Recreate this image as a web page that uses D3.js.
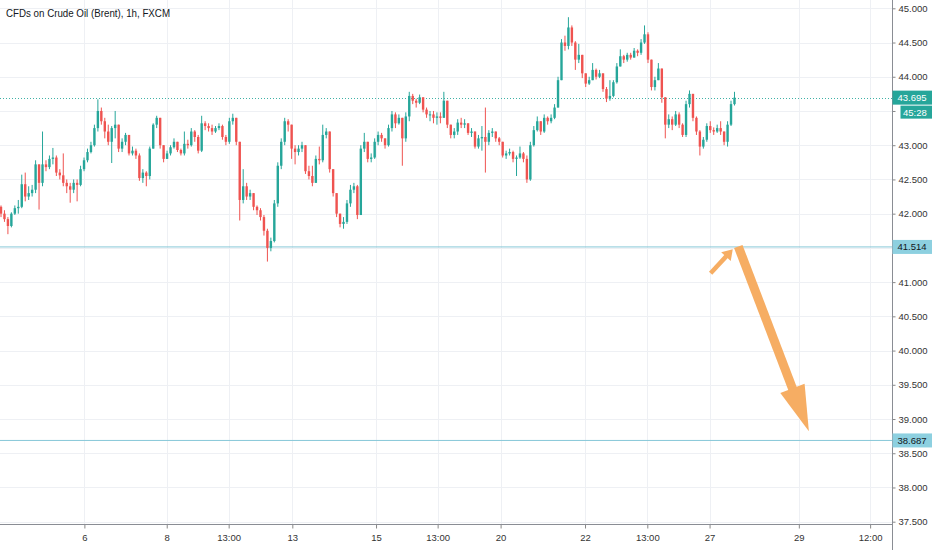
<!DOCTYPE html>
<html>
<head>
<meta charset="utf-8">
<script src="https://cdn.jsdelivr.net/npm/d3@7"></script>
<style>
  html, body { margin: 0; padding: 0; background: #fff; }
  svg { display: block; font-family: "Liberation Sans", Arial, sans-serif; }
  .tick text { fill: #333; font-size: 9.5px; }
  .tick line { stroke: #888; }
</style>
</head>
<body>
<script>
// CFDs on Crude Oil (Brent), 2h bars
const title = "CFDs on Crude Oil (Brent), 1h, FXCM";

const firstOpen = 42.10;
const closes = [
  42.00, 41.92, 41.82, 42.00, 42.08, 42.10, 42.43, 42.25, 42.30, 42.35,
  42.72, 42.45, 42.72, 42.68, 42.80, 42.82, 42.60, 42.56, 42.45, 42.40,
  42.35, 42.45, 42.42, 42.65, 42.78, 42.90, 43.00, 43.25, 43.50, 43.35,
  43.20, 43.05, 43.25, 43.30, 42.95, 43.05, 43.15, 42.88, 42.92, 42.85,
  42.52, 42.60, 42.55, 42.95, 43.30, 43.40, 43.00, 42.80, 42.88, 42.97,
  43.05, 42.93, 42.88, 43.02, 43.00, 43.20, 43.12, 42.92, 43.32, 43.28,
  43.25, 43.20, 43.25, 43.28, 43.12, 43.05, 43.35, 43.40, 43.05, 42.20,
  42.40, 42.25, 42.30, 42.10, 42.05, 41.95, 41.75, 41.50, 41.60, 42.15,
  42.70, 43.05, 43.35, 43.30, 42.95, 42.90, 42.95, 43.00, 42.62, 42.55,
  42.45, 42.80, 42.78, 43.15, 43.20, 42.65, 42.30, 42.00, 41.85, 41.88,
  42.15, 42.35, 42.40, 41.98, 42.95, 43.05, 42.80, 42.82, 43.05, 43.15,
  43.10, 43.00, 43.25, 43.45, 43.32, 43.40, 43.10, 43.42, 43.72, 43.65,
  43.62, 43.70, 43.52, 43.45, 43.45, 43.40, 43.42, 43.40, 43.65, 43.30,
  43.15, 43.20, 43.33, 43.30, 43.32, 43.18, 43.20, 42.98, 43.10, 43.12,
  43.05, 43.18, 43.20, 43.10, 43.05, 42.85, 42.88, 42.90, 42.80, 42.82,
  42.88, 42.80, 42.50, 43.00, 43.22, 43.35, 43.20, 43.40, 43.35, 43.40,
  43.55, 43.95, 44.50, 44.45, 44.72, 44.50, 44.25, 44.32, 44.05, 43.90,
  43.95, 44.10, 44.00, 44.05, 43.82, 43.68, 43.72, 43.92, 44.15, 44.30,
  44.25, 44.32, 44.28, 44.38, 44.35, 44.50, 44.62, 44.25, 43.85, 43.95,
  44.12, 43.70, 43.30, 43.38, 43.30, 43.45, 43.30, 43.15, 43.60, 43.75,
  43.40, 43.20, 42.98, 43.08, 43.28, 43.22, 43.20, 43.25, 43.20, 43.05,
  43.30, 43.60, 43.695
];
const highs = [
  42.12, 42.05, 41.95, 42.02, 42.12, 42.20, 42.57, 42.60, 42.40, 42.42,
  42.78, 42.72, 43.20, 42.78, 42.85, 42.96, 42.85, 42.65, 42.88, 42.50,
  42.45, 42.50, 42.50, 42.70, 42.82, 42.95, 43.05, 43.30, 43.67, 43.55,
  43.40, 43.30, 43.28, 43.50, 43.30, 43.10, 43.18, 43.12, 42.98, 42.95,
  42.88, 42.65, 42.62, 42.98, 43.32, 43.43, 43.40, 42.95, 42.92, 43.00,
  43.10, 43.05, 42.95, 43.20, 43.08, 43.25, 43.22, 43.15, 43.43, 43.35,
  43.32, 43.30, 43.28, 43.32, 43.30, 43.15, 43.40, 43.46, 43.38, 43.05,
  42.65, 42.45, 42.35, 42.30, 42.12, 42.08, 41.98, 41.78, 41.65, 42.20,
  42.75, 43.10, 43.40, 43.38, 43.30, 43.00, 43.00, 43.05, 43.00, 42.70,
  42.70, 42.85, 42.98, 43.30, 43.25, 43.20, 42.65, 42.30, 42.00, 41.95,
  42.20, 42.42, 42.45, 42.42, 43.00, 43.18, 43.05, 42.88, 43.10, 43.20,
  43.18, 43.10, 43.30, 43.50, 43.48, 43.45, 43.40, 43.48, 43.78, 43.75,
  43.68, 43.74, 43.70, 43.55, 43.50, 43.50, 43.48, 43.48, 43.78, 43.62,
  43.30, 43.25, 43.38, 43.40, 43.38, 43.32, 43.25, 43.20, 43.15, 43.28,
  43.55, 43.22, 43.25, 43.20, 43.12, 43.05, 42.92, 42.95, 42.92, 42.85,
  42.98, 42.90, 42.85, 43.05, 43.28, 43.42, 43.35, 43.45, 43.42, 43.45,
  43.60, 44.00, 44.55, 44.60, 44.87, 44.75, 44.52, 44.48, 44.32, 44.02,
  44.00, 44.20, 44.12, 44.10, 44.05, 43.85, 43.95, 43.95, 44.20, 44.40,
  44.32, 44.35, 44.35, 44.42, 44.40, 44.55, 44.75, 44.65, 44.25, 44.00,
  44.20, 44.12, 43.70, 43.45, 43.42, 43.50, 43.48, 43.32, 43.65, 43.80,
  43.75, 43.42, 43.22, 43.12, 43.32, 43.35, 43.26, 43.30, 43.35, 43.20,
  43.35, 43.65, 43.78
];
const lows = [
  41.95, 41.88, 41.70, 41.80, 41.98, 42.00, 42.08, 42.18, 42.20, 42.25,
  42.30, 42.06, 42.40, 42.62, 42.65, 42.72, 42.55, 42.50, 42.40, 42.30,
  42.16, 42.30, 42.18, 42.40, 42.62, 42.75, 42.88, 42.98, 43.20, 43.30,
  43.10, 43.00, 42.74, 43.10, 42.90, 42.90, 43.00, 42.85, 42.85, 42.80,
  42.48, 42.45, 42.40, 42.50, 42.95, 43.25, 42.95, 42.75, 42.80, 42.85,
  42.95, 42.90, 42.85, 42.85, 42.95, 42.98, 43.05, 42.88, 42.90, 43.22,
  43.20, 43.15, 43.18, 43.22, 43.08, 43.00, 43.02, 43.30, 43.00, 41.90,
  42.15, 42.20, 42.20, 42.05, 41.98, 41.90, 41.68, 41.30, 41.45, 41.58,
  42.10, 42.65, 43.00, 43.20, 42.80, 42.72, 42.85, 42.90, 42.58, 42.50,
  42.40, 42.45, 42.72, 42.75, 43.10, 42.60, 42.25, 41.95, 41.80, 41.78,
  41.85, 42.10, 42.30, 41.92, 41.98, 42.90, 42.75, 42.75, 42.80, 43.00,
  43.05, 42.95, 42.98, 43.20, 43.25, 43.30, 42.70, 43.05, 43.35, 43.60,
  43.55, 43.60, 43.48, 43.40, 43.35, 43.32, 43.30, 43.32, 43.40, 43.25,
  43.10, 43.10, 43.15, 43.25, 43.25, 43.15, 43.12, 42.95, 42.95, 42.92,
  42.60, 43.00, 43.12, 43.05, 43.00, 42.82, 42.80, 42.85, 42.75, 42.55,
  42.80, 42.75, 42.45, 42.48, 42.98, 43.20, 43.15, 43.18, 43.30, 43.32,
  43.38, 43.55, 43.95, 44.38, 44.40, 44.45, 44.10, 44.20, 43.98, 43.85,
  43.88, 43.95, 43.96, 43.98, 43.78, 43.63, 43.65, 43.70, 43.90, 44.15,
  44.20, 44.22, 44.25, 44.28, 44.30, 44.32, 44.48, 44.20, 43.80, 43.80,
  43.95, 43.62, 43.10, 43.25, 43.22, 43.28, 43.25, 43.12, 43.12, 43.55,
  43.35, 43.15, 42.85, 42.95, 43.05, 43.18, 43.15, 43.18, 43.15, 43.00,
  42.98, 43.28, 43.58
];

// x axis labels and the bar index they sit at
const xTickLabels = ["6", "8", "13:00", "13", "15", "13:00", "20", "22", "13:00", "27", "29", "12:00"];
const xTickIdx    = [24.1, 47.9, 65.8, 84.2, 108.4, 126.2, 144.4, 168.8, 186.8, 204.8, 230.6, 251.2];

const yTicks = [37.5, 38, 38.5, 39, 39.5, 40, 40.5, 41, 41.5, 42, 42.5, 43, 43.5, 44, 44.5, 45];

// horizontal levels drawn on the chart
const lastPrice = 43.695;
const countdown = "45:28";
const levels = [41.514, 38.687];

// orange arrows: [barIndex, price]
const smallArrow = [[205.1, 41.13], [211.5, 41.48]];
const bigArrow   = [[213.1, 41.52], [233.5, 38.82]];

const W = 932, H = 550;
const axisX = 892.5, axisY = 524.5;
const upColor = "#26a69a", downColor = "#ef5350", arrowColor = "#f6ad63";

const x = d3.scaleLinear().domain([0, 257.7]).range([1, 892.6]);
const y = d3.scaleLinear().domain([45, 37.5]).range([8.3, 521.7]);
const snap = v => Math.round(v) + 0.5;

const svg = d3.select("body").append("svg")
    .attr("width", W).attr("height", H);

// grid
svg.append("g").selectAll("line").data(yTicks).join("line")
    .attr("x1", 0).attr("x2", axisX)
    .attr("y1", d => snap(y(d))).attr("y2", d => snap(y(d)))
    .attr("stroke", "#eef0f4").attr("stroke-width", 1);
svg.append("g").selectAll("line").data(xTickIdx).join("line")
    .attr("x1", d => snap(x(d))).attr("x2", d => snap(x(d)))
    .attr("y1", 0).attr("y2", axisY)
    .attr("stroke", "#eef0f4").attr("stroke-width", 1);

// level lines
svg.append("g").selectAll("line").data(levels).join("line")
    .attr("x1", 0).attr("x2", axisX)
    .attr("y1", d => y(d)).attr("y2", d => y(d))
    .attr("stroke", "#86c7d8").attr("stroke-width", 1);
svg.append("line")
    .attr("x1", 0).attr("x2", axisX)
    .attr("y1", snap(y(lastPrice))).attr("y2", snap(y(lastPrice)))
    .attr("stroke", "#3fb2a6").attr("stroke-width", 1)
    .attr("stroke-dasharray", "1,2");

// candles
const bars = closes.map((c, i) => {
    const o = i === 0 ? firstOpen : closes[i - 1];
    return {i, o, c, h: Math.max(highs[i], o, c), l: Math.min(lows[i], o, c)};
});
const bw = 2.4;
const candle = svg.append("g").selectAll("g").data(bars).join("g");
candle.append("line")
    .attr("x1", d => x(d.i)).attr("x2", d => x(d.i))
    .attr("y1", d => y(d.h)).attr("y2", d => y(d.l))
    .attr("stroke", d => d.c >= d.o ? upColor : downColor)
    .attr("stroke-width", 1);
candle.append("rect")
    .attr("x", d => x(d.i) - bw / 2).attr("width", bw)
    .attr("y", d => y(Math.max(d.o, d.c)))
    .attr("height", d => Math.max(1, Math.abs(y(d.o) - y(d.c))))
    .attr("fill", d => d.c >= d.o ? upColor : downColor);

// arrows
function drawArrow(pts, width, headLen, headHalf) {
    const [x0, y0] = [x(pts[0][0]), y(pts[0][1])];
    const [x1, y1] = [x(pts[1][0]), y(pts[1][1])];
    const len = Math.hypot(x1 - x0, y1 - y0);
    const ux = (x1 - x0) / len, uy = (y1 - y0) / len;
    const bx = x1 - ux * headLen, by = y1 - uy * headLen;
    svg.append("line")
        .attr("x1", x0).attr("y1", y0).attr("x2", bx + ux).attr("y2", by + uy)
        .attr("stroke", arrowColor).attr("stroke-width", width);
    svg.append("path")
        .attr("d", d3.line()([[x1, y1], [bx - uy * headHalf, by + ux * headHalf], [bx + uy * headHalf, by - ux * headHalf]]) + "Z")
        .attr("fill", arrowColor);
}
drawArrow(smallArrow, 4.5, 10, 6.5);
drawArrow(bigArrow, 9, 46, 13);

// axes; tick labels sitting under a price tag are hidden like on the chart
const countdownPrice = y.invert(y(lastPrice) + 14.5);
const tagged = [lastPrice, countdownPrice, ...levels];
const yAxis = d3.axisRight(y).tickValues(yTicks).tickSize(3).tickPadding(3)
    .tickFormat(d => tagged.some(t => Math.abs(t - d) < 0.1) ? "" : d3.format(".3f")(d));
svg.append("g").attr("transform", `translate(${axisX},0)`).call(yAxis)
    .call(g => g.select(".domain").remove());

const xAxis = d3.axisBottom(x).tickValues(xTickIdx).tickSize(4).tickPadding(6)
    .tickFormat((d, i) => xTickLabels[i]);
svg.append("g").attr("transform", `translate(0,${axisY})`).call(xAxis)
    .call(g => g.select(".domain").remove());

svg.append("line").attr("x1", axisX).attr("x2", axisX).attr("y1", 0).attr("y2", H)
    .attr("stroke", "#8a8d94");
svg.append("line").attr("x1", 0).attr("x2", axisX).attr("y1", axisY).attr("y2", axisY)
    .attr("stroke", "#8a8d94");

// price labels on the axis
function priceTag(val, label, fill, color, left, h) {
    const cy = y(val);
    svg.append("rect").attr("x", left).attr("y", cy - h / 2)
        .attr("width", W - left).attr("height", h).attr("fill", fill);
    svg.append("text").attr("x", left + 5).attr("y", cy + 3.4)
        .attr("font-size", "9.5px").attr("fill", color).text(label);
}
priceTag(lastPrice, d3.format(".3f")(lastPrice), upColor, "#fff", axisX, 14);
levels.forEach(v => priceTag(v, d3.format(".3f")(v), "#8dd0e0", "#131722", axisX, 14));
// countdown sits just under the last price tag
const cdY = y(countdownPrice);
svg.append("rect").attr("x", 900.5).attr("y", cdY - 6.5).attr("width", W - 900.5).attr("height", 13)
    .attr("fill", upColor);
svg.append("text").attr("x", 903).attr("y", cdY + 3.4)
    .attr("font-size", "9.5px").attr("fill", "#fff").text(countdown);

// title
svg.append("text").attr("x", 6).attr("y", 17)
    .attr("font-size", "10.5px").attr("fill", "#131722")
    .attr("textLength", 164).attr("lengthAdjust", "spacingAndGlyphs")
    .text(title);
</script>
</body>
</html>
